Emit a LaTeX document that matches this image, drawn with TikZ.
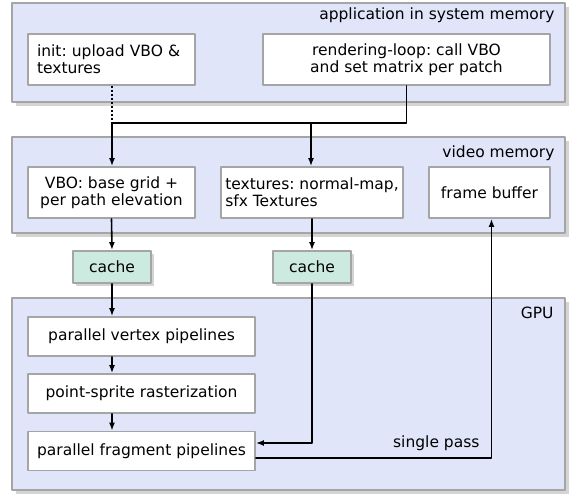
\documentclass[tikz,border=0pt]{standalone}
\usepackage{fontspec}
\setmainfont{DejaVu Sans}
\usetikzlibrary{arrows.meta,shadows}
\frenchspacing
\definecolor{regionfill}{RGB}{224,229,250}
\definecolor{cachefill}{RGB}{205,234,224}
\definecolor{framegray}{RGB}{165,165,165}
\definecolor{shadowgray}{RGB}{212,212,212}
\tikzset{
  every node/.style={font=\fontsize{15.5}{17}\selectfont},
  region/.style={draw=framegray, fill=regionfill, line width=1.8pt, inner sep=0pt, minimum width=553pt,
    drop shadow={shadow xshift=4pt, shadow yshift=-4pt, fill=shadowgray, draw=none, opacity=1}},
  unit/.style={draw=framegray, fill=white, line width=1.8pt, inner sep=0pt},
  cachebox/.style={draw=framegray, fill=cachefill, line width=1.8pt, inner sep=0pt, minimum width=78pt, minimum height=32pt,
    drop shadow={shadow xshift=3pt, shadow yshift=-3pt, fill=shadowgray, draw=none, opacity=1}},
  regionlabel/.style={anchor=base east},
  flow/.style={line width=1.6pt},
}
\begin{document}
\begin{tikzpicture}[line cap=round,line join=round,>={Latex[length=8pt,width=6pt]},x=1pt,y=-1pt]
\useasboundingbox (0,0) rectangle (569,495);
% regions
\node[region, minimum height=99pt] (app) at (288.5,52.5) {};
\node[region, minimum height=96pt] (vid) at (288.5,185) {};
\node[region, minimum height=192pt] (gpu) at (288.5,394) {};
\node[regionlabel] (applabel) at (558,20) {application in system memory};
\node[regionlabel] (vidlabel) at (558,157) {video memory};
\node[regionlabel] (gpulabel) at (557,318) {GPU};
% application in system memory
\node[unit, minimum width=167pt, minimum height=51pt, text width=149pt, align=left] (init) at (111.5,59.5) {init: upload VBO \&\\textures};
\node[unit, minimum width=287pt, minimum height=51pt, align=center] (rend) at (406.5,59.5) {rendering-loop: call VBO\\and set matrix per patch};
% video memory
\node[unit, minimum width=167pt, minimum height=51pt, align=center] (vbo) at (111.5,192.5) {VBO: base grid +\\per path elevation};
\node[unit, minimum width=182pt, minimum height=51pt, align=left] (tex) at (312,192.5) {textures: normal-map,\\sfx Textures};
\node[unit, minimum width=121pt, minimum height=51pt, align=center] (fb) at (489.5,192.5) {frame buffer};
% caches
\node[cachebox] (cache1) at (112,267) {cache};
\node[cachebox] (cache2) at (312,267) {cache};
% GPU
\node[unit, minimum width=227pt, minimum height=39pt] (vert) at (141.5,336.5) {parallel vertex pipelines};
\node[unit, minimum width=227pt, minimum height=39pt] (sprite) at (141.5,393.5) {point-sprite rasterization};
\node[unit, minimum width=227pt, minimum height=39pt] (frag) at (141.5,451) {parallel fragment pipelines};
\node[anchor=base east] (pass) at (483,447) {single pass};
% connectors
\coordinate (jl) at (112,123);
\coordinate (jm) at (311,123);
\draw[flow, line cap=butt, dash pattern=on 2pt off 2pt] (init.south -| jl) -- (jl);
\draw[flow] (rend.south) |- (jl);
\draw[flow,->] (jl) -- (jl |- vbo.north);
\draw[flow,->] (jm) -- (jm |- tex.north);
\draw[flow,->] (vbo.south) -- (cache1.north);
\draw[flow,->] (tex.south) -- (cache2.north);
\draw[flow,->] (cache1.south) -- (cache1.south |- vert.north);
\draw[flow,->] (cache1.south |- vert.south) -- (cache1.south |- sprite.north);
\draw[flow,->] (cache1.south |- sprite.south) -- (cache1.south |- frag.north);
\draw[flow,->] (cache2.south) |- ([yshift=8pt]frag.east);
\draw[flow,->] ([yshift=-7pt]frag.east) -| ([xshift=2pt]fb.south);
\end{tikzpicture}
\end{document}
